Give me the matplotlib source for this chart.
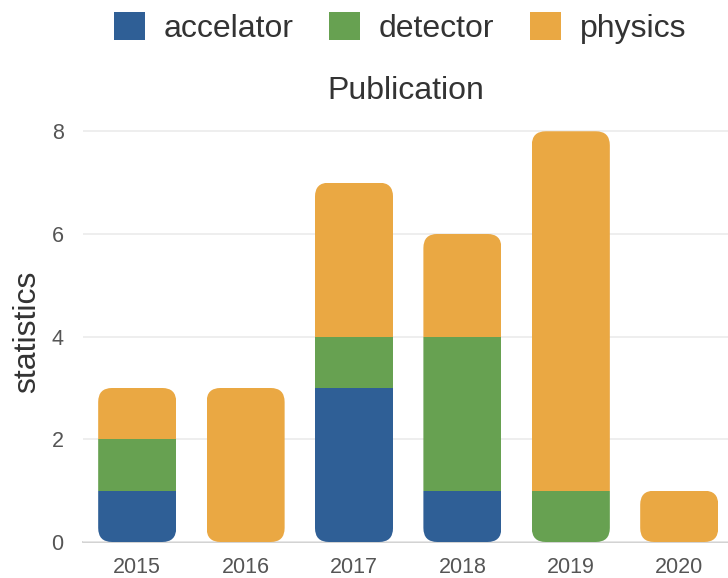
import matplotlib
matplotlib.use("Agg")
import matplotlib.pyplot as plt
from matplotlib.patches import FancyBboxPatch
import numpy as np

plt.rcParams['font.family'] = ['Liberation Sans', 'DejaVu Sans']

#----- data -----
years = ['2015', '2016', '2017', '2018', '2019', '2020']
accelator = [1, 0, 3, 1, 0, 0]
detector = [1, 0, 1, 3, 1, 0]
physics = [1, 3, 3, 2, 7, 1]

c_acc = '#2f5f96'
c_det = '#67a151'
c_phy = '#eaa843'
txt = '#333333'

fig = plt.figure(figsize=(7.28, 5.78), dpi=100)
ax = fig.add_axes([83/728, 36/578, 1 - 83/728, 421/578])

x = np.arange(len(years))
w = 0.72
acc = np.array(accelator)
det = np.array(detector)
phy = np.array(physics)

b1 = ax.bar(x, acc, w, color=c_acc, label='accelator', zorder=3)
b2 = ax.bar(x, det, w, bottom=acc, color=c_det, label='detector', zorder=3)
b3 = ax.bar(x, phy, w, bottom=acc + det, color=c_phy, label='physics', zorder=3)

ax.set_xlim(-0.5, 5.45)
ax.set_ylim(0, 8.2)
ax.set_xticks(x)
ax.set_xticklabels(years)
ax.set_yticks([0, 2, 4, 6, 8])
ax.tick_params(axis='both', length=0, labelsize=15.5, colors='#555555')
ax.tick_params(axis='x', pad=11)
ax.tick_params(axis='y', pad=14)
ax.grid(axis='y', color='#ebebeb', linewidth=1.2, zorder=0)
for s in ['top', 'right', 'left']:
    ax.spines[s].set_visible(False)
ax.spines['bottom'].set_color('#cfcfcf')
ax.spines['bottom'].set_linewidth(1.3)
ax.spines['bottom'].set_zorder(1)

# rounded corners on each stacked column (clip all segments)
fig.canvas.draw()
p0 = ax.transData.transform((0, 0))
p1 = ax.transData.transform((1, 1))
px_x = p1[0] - p0[0]
px_y = p1[1] - p0[1]
r_px = 14
totals = acc + det + phy
for i in range(len(years)):
    clip = FancyBboxPatch((x[i] - w/2, 0), w, totals[i],
                          boxstyle=f"round,pad=0,rounding_size={r_px/px_x}",
                          mutation_aspect=px_x/px_y, transform=ax.transData)
    for bars in (b1, b2, b3):
        bars[i].set_clip_path(clip)

ax.set_ylabel('statistics', fontsize=23, color=txt, labelpad=7)
fig.text(406/728, 1 - 99/578, 'Publication', fontsize=23, color=txt,
         ha='center', va='baseline')

fig.legend(handles=[b1, b2, b3], loc='center',
           bbox_to_anchor=(400/728, 1 - 28/578), ncol=3, frameon=False,
           fontsize=23, labelcolor=txt, borderpad=0, borderaxespad=0,
           handlelength=0.97, handleheight=0.97, handletextpad=0.6,
           columnspacing=1.1)

fig.savefig('out.png', dpi=100)
